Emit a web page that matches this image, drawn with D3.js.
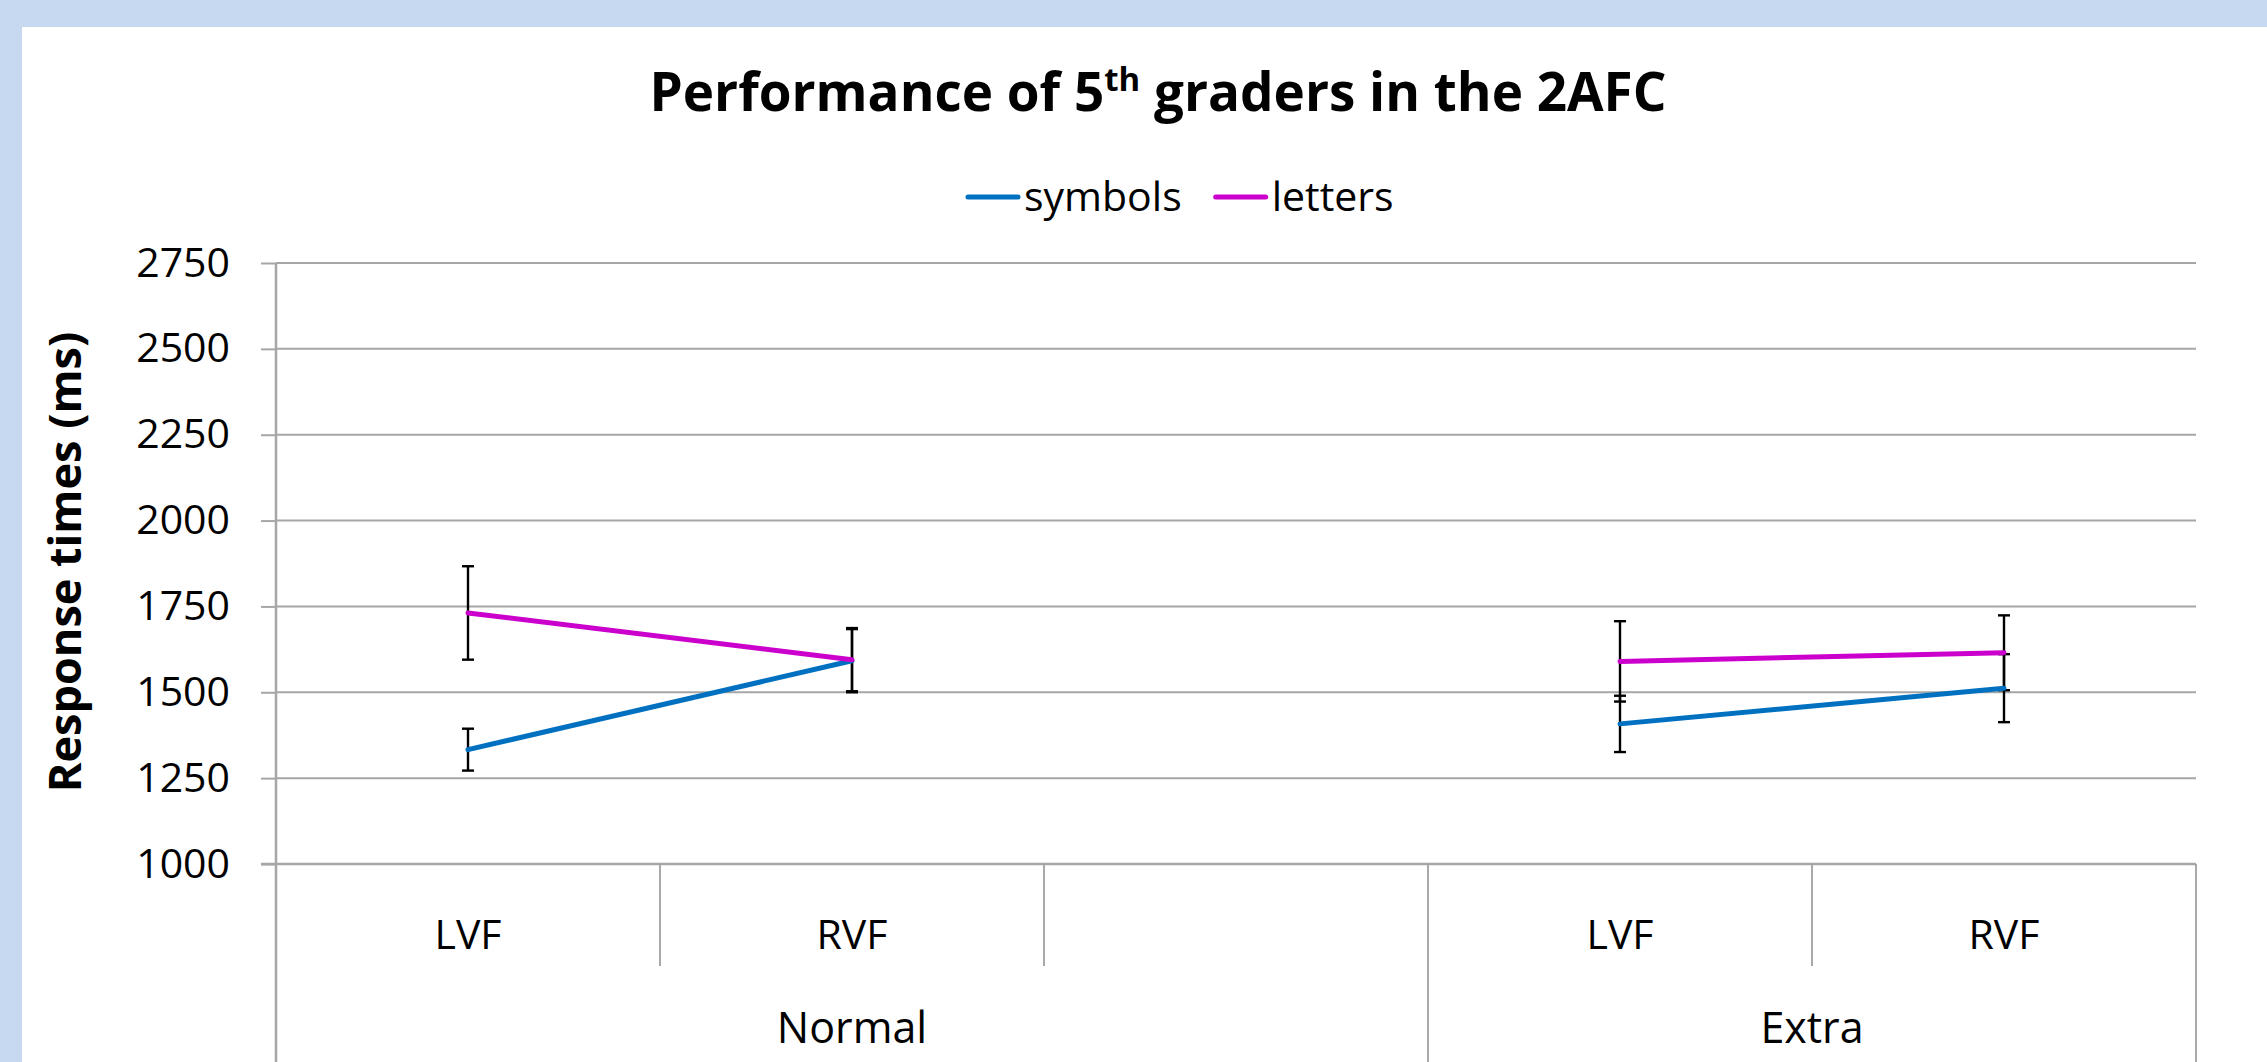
<!DOCTYPE html>
<html>
<head>
<meta charset="utf-8">
<script src="https://cdn.jsdelivr.net/npm/d3@7"></script>
<style>
  body { margin: 0; background: #ffffff; }
  svg { display: block; }
</style>
</head>
<body>
<svg></svg>
<script>
//chart data
let groups = ['Normal', 'Extra'];
let categories = [
    { group: 'Normal', label: 'LVF' },
    { group: 'Normal', label: 'RVF' },
    { group: 'Normal', label: '' },
    { group: 'Extra', label: 'LVF' },
    { group: 'Extra', label: 'RVF' }
];
let seriesNames = ['symbols', 'letters'];
let symbolsValues = [1333, 1592, null, 1408, 1512];
let symbolsErrors = [61, 92, null, 82, 99];
let lettersValues = [1731, 1595, null, 1590, 1615];
let lettersErrors = [136, 92, null, 117, 109];
let yTicks = [1000, 1250, 1500, 1750, 2000, 2250, 2500, 2750];

//svg dimensions
let width = 2267;
let height = 1062;
let plotLeft = 276;
let plotRight = 2196;
let plotTop = 263;
let plotBottom = 864;
let colors = { symbols: '#0070c0', letters: '#cc00cc' };
let grid = '#a6a6a6';
let font = "'Open Sans', 'Noto Sans', sans-serif";

let svg = d3.select('svg')
    .attr('width', width)
    .attr('height', height);

let keys = categories.map((c, i) => i);

let xScale = d3.scaleBand()
    .domain(keys)
    .range([plotLeft, plotRight])
    .padding(0);

let yScale = d3.scaleLinear()
    .domain([yTicks[0], yTicks[yTicks.length - 1]])
    .range([plotBottom, plotTop]);

let cx = (i) => xScale(i) + xScale.bandwidth() / 2;

//page frame (light blue band on top and left)
svg.append('rect').attr('x', 0).attr('y', 0).attr('width', width).attr('height', 27).attr('fill', '#c6d9f1');
svg.append('rect').attr('x', 0).attr('y', 0).attr('width', 22).attr('height', height).attr('fill', '#c6d9f1');

//title
let title = svg.append('text')
    .attr('x', 1158)
    .attr('y', 111)
    .attr('text-anchor', 'middle')
    .style('font-family', font)
    .style('font-weight', 'bold')
    .style('font-size', '53px')
    .attr('fill', '#000');
title.append('tspan').text('Performance of 5');
title.append('tspan').text('th').style('font-size', '33px').attr('dy', -20);
title.append('tspan').text(' graders in the 2AFC').attr('dy', 20);

//gridlines
svg.append('g')
    .selectAll('line')
    .data(yTicks.slice(1))
    .enter()
    .append('line')
    .attr('x1', plotLeft)
    .attr('x2', plotRight)
    .attr('y1', d => yScale(d))
    .attr('y2', d => yScale(d))
    .attr('stroke', grid)
    .attr('stroke-width', 2);

//y axis
let yAxis = d3.axisLeft(yScale)
    .tickValues(yTicks)
    .tickSize(15)
    .tickPadding(31)
    .tickFormat(d3.format('d'));

let yAxisG = svg.append('g')
    .attr('id', 'y-axis')
    .attr('transform', 'translate(' + plotLeft + ', 0)')
    .call(yAxis);
yAxisG.select('.domain').remove();
yAxisG.selectAll('line').attr('stroke', grid).attr('stroke-width', 2);
yAxisG.selectAll('text')
    .style('font-family', font)
    .style('font-size', '41px')
    .attr('fill', '#000');

//vertical axis line down to the bottom of the picture
svg.append('line')
    .attr('x1', plotLeft).attr('x2', plotLeft)
    .attr('y1', plotTop).attr('y2', height)
    .attr('stroke', grid).attr('stroke-width', 2.5);

//category axis line
svg.append('line')
    .attr('x1', plotLeft - 15).attr('x2', plotRight)
    .attr('y1', plotBottom).attr('y2', plotBottom)
    .attr('stroke', grid).attr('stroke-width', 2.5);

//category separators: short inside groups, long at group edges
let boundaries = keys.slice(1).map(i => ({
    x: xScale(i),
    long: categories[i].group !== categories[i - 1].group
}));
boundaries.push({ x: plotRight, long: true });

svg.append('g')
    .selectAll('line')
    .data(boundaries)
    .enter()
    .append('line')
    .attr('x1', d => d.x)
    .attr('x2', d => d.x)
    .attr('y1', plotBottom)
    .attr('y2', d => d.long ? height : 966)
    .attr('stroke', '#a0a0a0')
    .attr('stroke-width', 1.8);

//category labels
svg.append('g')
    .selectAll('text')
    .data(categories)
    .enter()
    .append('text')
    .attr('x', (d, i) => cx(i))
    .attr('y', 949)
    .attr('text-anchor', 'middle')
    .style('font-family', font)
    .style('font-size', '41px')
    .text(d => d.label);

//group labels
svg.append('g')
    .selectAll('text')
    .data(groups)
    .enter()
    .append('text')
    .attr('x', g => {
        let idx = keys.filter(i => categories[i].group === g);
        return (xScale(idx[0]) + xScale(idx[idx.length - 1]) + xScale.bandwidth()) / 2;
    })
    .attr('y', 1043)
    .attr('text-anchor', 'middle')
    .style('font-family', font)
    .style('font-size', '43px')
    .text(g => g);

//y axis title
svg.append('text')
    .attr('transform', 'translate(63, 562) rotate(-90)')
    .attr('text-anchor', 'middle')
    .attr('dominant-baseline', 'central')
    .style('font-family', font)
    .style('font-weight', 'bold')
    .style('font-size', '45px')
    .text('Response times (ms)');

//series
let series = [
    { name: 'symbols', values: symbolsValues, errors: symbolsErrors },
    { name: 'letters', values: lettersValues, errors: lettersErrors }
];

//error bars
series.forEach(s => {
    let pts = s.values.map((v, i) => ({ i: i, v: v, e: s.errors[i] })).filter(d => d.v != null);
    let g = svg.append('g').attr('stroke', '#000').attr('stroke-width', 2.4);
    pts.forEach(d => {
        let x = cx(d.i);
        g.append('line').attr('x1', x).attr('x2', x).attr('y1', yScale(d.v - d.e)).attr('y2', yScale(d.v + d.e));
        g.append('line').attr('x1', x - 6).attr('x2', x + 6).attr('y1', yScale(d.v - d.e)).attr('y2', yScale(d.v - d.e));
        g.append('line').attr('x1', x - 6).attr('x2', x + 6).attr('y1', yScale(d.v + d.e)).attr('y2', yScale(d.v + d.e));
    });
});

//lines
let line = d3.line()
    .defined(d => d.v != null)
    .x(d => cx(d.i))
    .y(d => yScale(d.v));

series.forEach(s => {
    svg.append('path')
        .datum(s.values.map((v, i) => ({ i: i, v: v })))
        .attr('d', line)
        .attr('fill', 'none')
        .attr('stroke', colors[s.name])
        .attr('stroke-width', 5)
        .attr('stroke-linecap', 'round');
});

//legend
let legend = svg.append('g').attr('transform', 'translate(966, 197)');
let lx = 0;
seriesNames.forEach(name => {
    legend.append('line')
        .attr('x1', lx + 2).attr('x2', lx + 52)
        .attr('y1', 0).attr('y2', 0)
        .attr('stroke', colors[name])
        .attr('stroke-width', 5)
        .attr('stroke-linecap', 'round');
    let t = legend.append('text')
        .attr('x', lx + 58)
        .attr('y', 14)
        .style('font-family', font)
        .style('font-size', '41px')
        .text(name);
    lx += 58 + t.node().getComputedTextLength() + 32;
});
</script>
</body>
</html>
